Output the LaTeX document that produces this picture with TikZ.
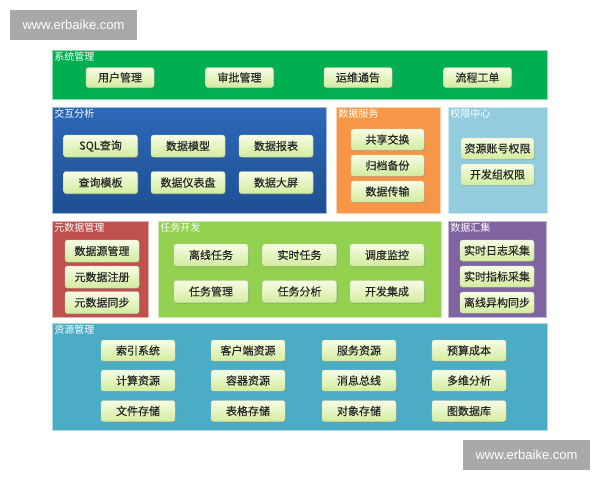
\documentclass[tikz,border=0pt]{standalone}
\usepackage{fontspec}
\usepackage{tikz}
\usetikzlibrary{shadows}
\newfontfamily\cjk{Noto Sans CJK SC}
\newfontfamily\cjkbtn[FakeBold=0.35]{Noto Sans CJK SC}
\newfontfamily\wmfont{Liberation Sans}

\definecolor{sysgreen}{HTML}{00B050}
\definecolor{jhblue}{HTML}{2D69B8}
\definecolor{jhblue2}{HTML}{1E4F93}
\definecolor{fworange}{HTML}{F79646}
\definecolor{qxblue}{HTML}{93CDDD}
\definecolor{ysjred}{HTML}{C0504D}
\definecolor{rwgreen}{HTML}{92D050}
\definecolor{hjpurple}{HTML}{8064A2}
\definecolor{zyteal}{HTML}{4BACC6}
\definecolor{btntop}{HTML}{F6FCE4}
\definecolor{btnbot}{HTML}{D3EC9E}
\definecolor{wmgray}{HTML}{A9A9A9}

\tikzset{
  panel/.style={fill=#1, draw=#1!45, line width=0.8pt, inner sep=0pt},
  ptitle/.style={anchor=north west, text=white, inner sep=2.5pt,
    font=\cjk\fontsize{10}{12}\selectfont},
  btn/.style={rounded corners=2.5pt, top color=btntop, bottom color=btnbot,
    draw=btnbot!80!black!60, line width=0.3pt, text=black!85,
    drop shadow={shadow xshift=1pt, shadow yshift=-1.2pt, opacity=0.35},
    minimum width=74pt, minimum height=21pt, inner sep=0pt,
    font=\cjkbtn\fontsize{11}{13}\selectfont},
  wmark/.style={fill=wmgray, text=white, minimum width=127pt, minimum height=30pt,
    inner sep=0pt, font=\wmfont\fontsize{13}{15}\selectfont}
}

\begin{document}
\begin{tikzpicture}[x=1pt,y=-1pt]
      \useasboundingbox[fill=white] (0,0) rectangle (600,480);
      % watermarks
      \node[wmark] (wm1) at (73.5,25) {www.erbaike.com};
      \node[wmark] (wm2) at (526.5,455) {www.erbaike.com};

      % panels
      \node[panel=sysgreen,minimum width=495pt,minimum height=49pt] (p0) at (299.5,74.5) {};
      \node[panel=jhblue,top color=jhblue,bottom color=jhblue2,minimum width=274pt,minimum height=106pt] (p1) at (189,160) {};
      \node[panel=fworange,minimum width=104pt,minimum height=106pt] (p2) at (388,160) {};
      \node[panel=qxblue,minimum width=99pt,minimum height=106pt] (p3) at (497.5,160) {};
      \node[panel=ysjred,minimum width=96pt,minimum height=96pt] (p4) at (100,269) {};
      \node[panel=rwgreen,minimum width=283pt,minimum height=96pt] (p5) at (299.5,269) {};
      \node[panel=hjpurple,minimum width=98pt,minimum height=96pt] (p6) at (497,269) {};
      \node[panel=zyteal,minimum width=495pt,minimum height=107pt] (p7) at (299.5,376.5) {};

      % panel titles
      \node[ptitle] (t0) at (p0.north west) {系统管理};
      \node[ptitle] (t1) at (p1.north west) {交互分析};
      \node[ptitle] (t2) at (p2.north west) {数据服务};
      \node[ptitle] (t3) at (p3.north west) {权限中心};
      \node[ptitle] (t4) at (p4.north west) {元数据管理};
      \node[ptitle] (t5) at (p5.north west) {任务开发};
      \node[ptitle] (t6) at (p6.north west) {数据汇集};
      \node[ptitle] (t7) at (p7.north west) {资源管理};

      % 系统管理
      \node[btn,minimum width=68pt,minimum height=20pt] (b01) at (120,77.5) {用户管理};
      \node[btn,minimum width=68pt,minimum height=20pt] (b02) at (239.5,77.5) {审批管理};
      \node[btn,minimum width=68pt,minimum height=20pt] (b03) at (358,77.5) {运维通告};
      \node[btn,minimum width=68pt,minimum height=20pt] (b04) at (477.5,77.5) {流程工单};

      % 交互分析
      \node[btn,minimum height=22pt] (b11) at (100.5,146) {SQL查询};
      \node[btn,minimum height=22pt] (b12) at (188,146) {数据模型};
      \node[btn,minimum height=22pt] (b13) at (276,146) {数据报表};
      \node[btn,minimum height=22pt] (b14) at (100.5,182.5) {查询模板};
      \node[btn,minimum height=22pt] (b15) at (188,182.5) {数据仪表盘};
      \node[btn,minimum height=22pt] (b16) at (276,182.5) {数据大屏};

      % 数据服务
      \node[btn,minimum width=73pt] (b21) at (387.5,139.5) {共享交换};
      \node[btn,minimum width=73pt] (b22) at (387.5,165.5) {归档备份};
      \node[btn,minimum width=73pt] (b23) at (387.5,191.5) {数据传输};

      % 权限中心
      \node[btn,minimum width=73pt] (b31) at (497.5,148.5) {资源账号权限};
      \node[btn,minimum width=73pt] (b32) at (497.5,174.5) {开发组权限};

      % 元数据管理
      \node[btn,minimum height=22pt] (b41) at (102,251) {数据源管理};
      \node[btn,minimum height=22pt] (b42) at (102,277) {元数据注册};
      \node[btn,minimum height=22pt] (b43) at (102,302.5) {元数据同步};

      % 任务开发
      \node[btn,minimum height=22pt] (b51) at (211,255) {离线任务};
      \node[btn,minimum height=22pt] (b52) at (299.5,255) {实时任务};
      \node[btn,minimum height=22pt] (b53) at (387,255) {调度监控};
      \node[btn,minimum height=22pt] (b54) at (211,291.5) {任务管理};
      \node[btn,minimum height=22pt] (b55) at (299.5,291.5) {任务分析};
      \node[btn,minimum height=22pt] (b56) at (387,291.5) {开发集成};

      % 数据汇集
      \node[btn] (b61) at (497,250.5) {实时日志采集};
      \node[btn] (b62) at (497,276.5) {实时指标采集};
      \node[btn] (b63) at (497,302.5) {离线异构同步};

      % 资源管理
      \node[btn] (b71) at (138,350.5) {索引系统};
      \node[btn] (b72) at (248,350.5) {客户端资源};
      \node[btn] (b73) at (359,350.5) {服务资源};
      \node[btn] (b74) at (469,350.5) {预算成本};
      \node[btn] (b75) at (138,380.5) {计算资源};
      \node[btn] (b76) at (248,380.5) {容器资源};
      \node[btn] (b77) at (359,380.5) {消息总线};
      \node[btn] (b78) at (469,380.5) {多维分析};
      \node[btn] (b79) at (138,411) {文件存储};
      \node[btn] (b710) at (248,411) {表格存储};
      \node[btn] (b711) at (359,411) {对象存储};
      \node[btn] (b712) at (469,411) {图数据库};

    \end{tikzpicture}
\end{document}
